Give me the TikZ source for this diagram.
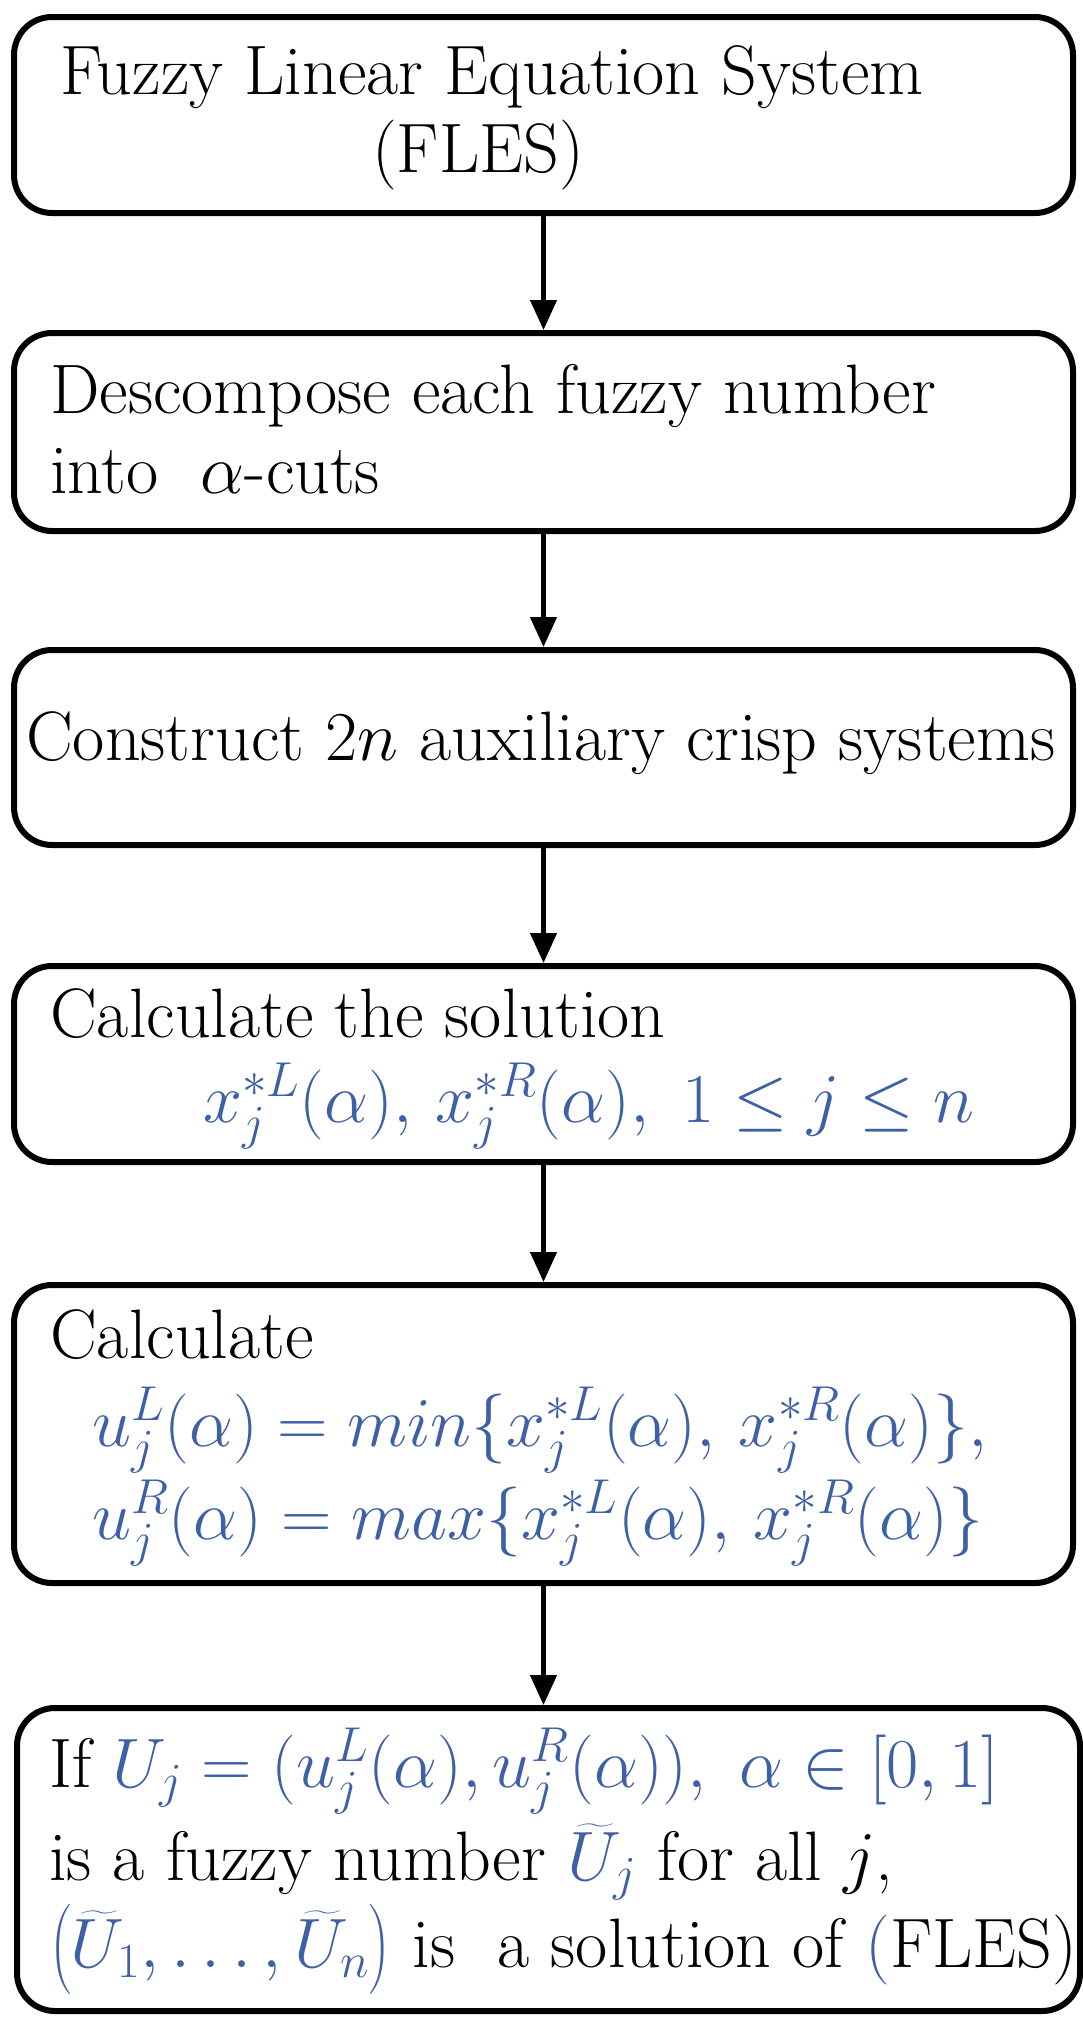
\RequirePackage{fix-cm}
\documentclass[tikz,border=0pt]{standalone}
\usepackage{amsmath}
\usetikzlibrary{arrows.meta}
\definecolor{mblue}{RGB}{62,96,165}
\begin{document}
\begin{tikzpicture}[x=1pt,y=-1pt,
  box/.style={draw,line width=6pt,rounded corners=38pt,inner sep=0pt},
  txt/.style={anchor=base west,inner sep=0pt,font=\fontsize{70}{84}\selectfont},
  arr/.style={line width=4.5pt,-{Triangle[length=30pt,width=26pt]}}]
\useasboundingbox (0,0) rectangle (1083,2032);
\newcommand{\bx}[5]{\node[box,minimum width=#3-#2,minimum height=#5-#4] (#1) at ({(#2+#3)/2},{(#4+#5)/2}) {};}
\bx{b1}{14}{1073}{17}{213}
\bx{b2}{14}{1073}{333}{531}
\bx{b3}{14}{1073}{650}{845}
\bx{b4}{14}{1073}{966}{1162}
\bx{b5}{14}{1073}{1285}{1583}
\bx{b6}{17}{1080}{1708}{2011}
\node[txt] (t1a) at (60,94) {Fuzzy Linear Equation System};
\node[txt] (t1b) at (372,172) {(FLES)};
\node[txt] (t2a) at (50,413) {Descompose each fuzzy number};
\node[txt] (t2b) at (50,493) {into\ \ $\alpha$-cuts};
\node[txt] (t3) at (26,760) {Construct $2n$ auxiliary crisp systems};
\node[txt] (t4a) at (50,1037) {Calculate the solution};
\node[txt,text=mblue] (t4b) at (203,1122) {$x_j^{*L}(\alpha),\,x_j^{*R}(\alpha),\ 1\le j\le n$};
\node[txt] (t5a) at (50,1358) {Calculate};
\node[txt,text=mblue] (t5b) at (92,1446) {$u_j^{L}(\alpha)=min\{x_j^{*L}(\alpha),\,x_j^{*R}(\alpha)\},$};
\node[txt,text=mblue] (t5c) at (92,1539) {$u_j^{R}(\alpha)=max\{x_j^{*L}(\alpha),\,x_j^{*R}(\alpha)\}$};
\node[txt] (t6a) at (49,1787) {If \textcolor{mblue}{$U_j=(u_j^L(\alpha),u_j^R(\alpha)),\ \alpha\in[0,1]$}};
\node[txt] (t6b) at (49,1880) {is a fuzzy number \textcolor{mblue}{$\widetilde{U}_j$} for all $j$,};
\node[txt] (t6c) at (49,1967) {\textcolor{mblue}{$\bigl(\widetilde{U}_1,\ldots,\widetilde{U}_n\bigr)$} is\ \ a solution of \textcolor{mblue}{(}FLES)};
\draw[arr] (b1.south) -- (b2.north);
\draw[arr] (b2.south) -- (b3.north);
\draw[arr] (b3.south) -- (b4.north);
\draw[arr] (b4.south) -- (b5.north);
\draw[arr] (b5.south) -- (b5.south |- b6.north);
\end{tikzpicture}
\end{document}
